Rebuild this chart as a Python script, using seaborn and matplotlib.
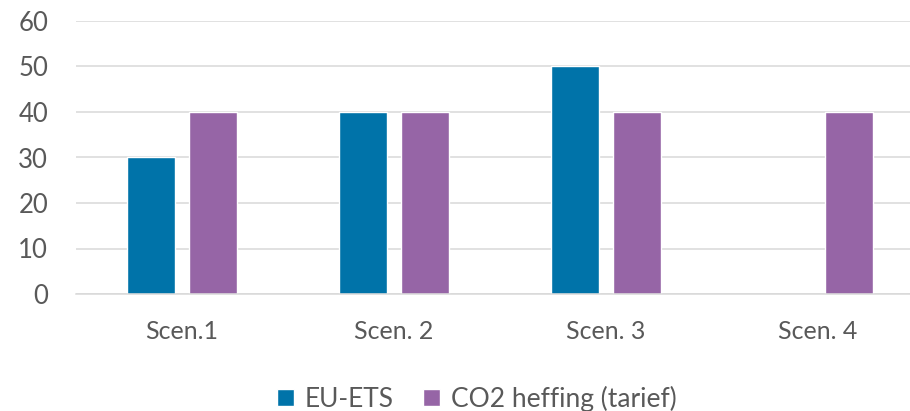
import matplotlib
matplotlib.use('Agg')
import matplotlib.pyplot as plt
import seaborn as sns
import pandas as pd
import numpy as np

# chart data
scenarios = ['Scen.1', 'Scen. 2', 'Scen. 3', 'Scen. 4']
eu_ets = [30, 40, 50, np.nan]
co2_heffing = [40, 40, 40, 40]
series_names = ['EU-ETS', 'CO2 heffing (tarief)']
y_ticks = [0, 10, 20, 30, 40, 50, 60]

df = pd.DataFrame({
    'scenario': scenarios * 2,
    'value': eu_ets + co2_heffing,
    'serie': [series_names[0]] * 4 + [series_names[1]] * 4,
})

sns.set_style("white")
plt.rcParams['font.family'] = ['Lato', 'DejaVu Sans']
text_col = '#595959'
grid_col = '#D9D9D9'

fig = plt.figure(figsize=(9.1, 4.11), dpi=100)
ax = fig.add_axes([76 / 910, 117 / 411, 848 / 910, 273 / 411])

sns.barplot(
    data=df, x='scenario', y='value', hue='serie',
    palette={series_names[0]: '#0073A9', series_names[1]: '#9665A6'},
    width=0.585, gap=0.226, saturation=1, ax=ax, zorder=3,
)

ax.set_ylim(0, 60)
ax.set_yticks(y_ticks)
ax.set_xlim(-0.5, 3.5)
ax.yaxis.grid(True, color=grid_col, linewidth=1.1, zorder=0)
ax.set_axisbelow(True)
for s in ['top', 'right', 'left']:
    ax.spines[s].set_visible(False)
ax.spines['bottom'].set_color(grid_col)
ax.spines['bottom'].set_linewidth(1.1)
ax.spines['bottom'].set_zorder(4)
ax.set_xlabel('')
ax.set_ylabel('')
ax.tick_params(axis='y', length=0, pad=20, labelsize=18.5, labelcolor=text_col)
ax.tick_params(axis='x', length=0, pad=19, labelsize=18, labelcolor=text_col)

handles, labels = ax.get_legend_handles_labels()
ax.get_legend().remove()
fig.legend(handles, labels, loc='center', bbox_to_anchor=(0.524, 0.03),
           ncol=2, frameon=False, fontsize=19, labelcolor=text_col,
           handlelength=0.65, handleheight=0.6, handletextpad=0.42,
           columnspacing=1.1)

fig.savefig('out.png', dpi=100, facecolor='white')
